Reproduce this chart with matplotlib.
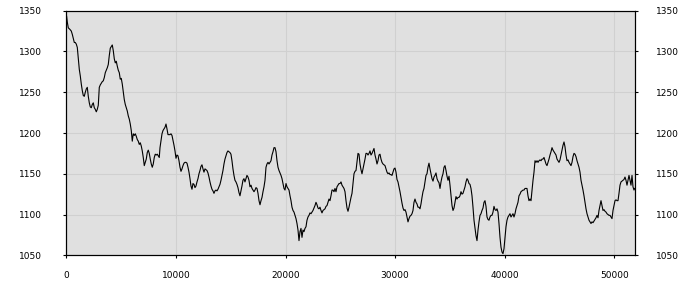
import matplotlib
matplotlib.use("Agg")
import matplotlib.pyplot as plt
import numpy as np

# ---- data ----
x_a = [0, 30, 91, 182, 334, 456, 547, 638, 730, 821, 912, 1003, 1094, 1186, 1277, 1368, 1459, 1550, 1642, 1733,
       1824, 1915, 2006, 2098, 2189, 2280, 2371, 2462, 2554, 2645, 2736, 2827, 2918, 3010, 3101, 3192, 3283, 3374,
       3466, 3557, 3648, 3739, 3830, 3922, 4013, 4104, 4195, 4286, 4378, 4469, 4560, 4651, 4742, 4834, 4925, 5016,
       5107, 5198, 5290, 5381, 5472, 5563, 5654, 5746, 5837, 5928, 6019, 6110, 6202, 6293, 6384, 6475, 6566, 6658,
       6749, 6840, 6931, 7022, 7114, 7205, 7296, 7387, 7478, 7570, 7661, 7752, 7843, 7934, 8026, 8117, 8208, 8299,
       8390, 8482]
y_a = [1345, 1343, 1336, 1329, 1327, 1325, 1321, 1316, 1311, 1311, 1309, 1305, 1291, 1278, 1270, 1260, 1252, 1246,
       1245, 1250, 1254, 1256, 1245, 1237, 1232, 1231, 1235, 1237, 1231, 1229, 1226, 1229, 1234, 1256, 1259, 1261,
       1263, 1264, 1268, 1274, 1277, 1280, 1284, 1295, 1304, 1306, 1308, 1301, 1291, 1286, 1288, 1282, 1277, 1274,
       1266, 1267, 1260, 1250, 1241, 1235, 1231, 1227, 1221, 1217, 1211, 1203, 1190, 1199, 1197, 1199, 1196, 1192,
       1190, 1186, 1188, 1184, 1178, 1170, 1160, 1164, 1168, 1176, 1179, 1175, 1168, 1162, 1158, 1162, 1170, 1174,
       1173, 1174, 1172, 1170]

x_b = [8549, 8640, 8731, 8822, 8914, 9005, 9096, 9187, 9278, 9370, 9461, 9552, 9643, 9734, 9826, 9917, 10008,
       10099, 10190, 10282, 10373, 10464, 10555, 10646, 10738, 10829, 10920, 11011, 11102, 11194, 11285, 11376,
       11467, 11558, 11650, 11741, 11832, 11923, 12014, 12106, 12197, 12288, 12379, 12470, 12562, 12653, 12744,
       12835, 12926, 13018, 13109, 13200, 13291, 13382, 13474, 13565, 13656, 13747, 13838, 13930, 14021, 14112,
       14203, 14294, 14386, 14477, 14568, 14659, 14750, 14842, 14933, 15024, 15115, 15206, 15298, 15389, 15480,
       15571, 15662, 15754, 15845, 15936, 16027, 16118, 16210, 16301, 16392, 16483]
y_b = [1182, 1191, 1199, 1203, 1205, 1207, 1211, 1205, 1198, 1198, 1198, 1199, 1197, 1191, 1185, 1178, 1169, 1173,
       1172, 1166, 1158, 1153, 1156, 1160, 1163, 1164, 1164, 1163, 1158, 1152, 1144, 1135, 1131, 1138, 1137, 1133,
       1135, 1140, 1144, 1150, 1154, 1159, 1161, 1156, 1152, 1156, 1155, 1154, 1151, 1146, 1140, 1135, 1131, 1129,
       1126, 1129, 1130, 1129, 1131, 1134, 1137, 1142, 1148, 1154, 1162, 1168, 1172, 1176, 1178, 1177, 1176, 1174,
       1166, 1156, 1148, 1142, 1140, 1137, 1133, 1127, 1123, 1129, 1135, 1142, 1144, 1140, 1144, 1148]

x_c = [16578, 16669, 16760, 16852, 16943, 17034, 17125, 17217, 17308, 17399, 17490, 17582, 17673, 17764, 17855,
       17946, 18038, 18129, 18220, 18311, 18403, 18494, 18585, 18676, 18768, 18859, 18950, 19041, 19133, 19224,
       19315, 19406, 19497, 19589, 19680, 19771, 19862, 19954, 20045, 20136, 20227, 20319, 20410, 20501, 20592,
       20683, 20775, 20866, 20957, 21048, 21140, 21231, 21322, 21413, 21504, 21596, 21687, 21778, 21869, 21960,
       22052, 22143, 22234, 22325, 22417, 22508, 22599, 22690, 22781, 22873, 22964, 23055, 23146, 23238, 23329,
       23420, 23511, 23603, 23694, 23785, 23876, 23968, 24059, 24150, 24241, 24333, 24424, 24515, 24606, 24697,
       24789, 24880]
y_c = [1146, 1142, 1134, 1136, 1132, 1130, 1128, 1130, 1133, 1132, 1126, 1117, 1112, 1117, 1121, 1128, 1134, 1142,
       1158, 1162, 1164, 1162, 1164, 1166, 1173, 1177, 1182, 1182, 1177, 1166, 1158, 1154, 1151, 1148, 1144, 1138,
       1132, 1130, 1138, 1134, 1132, 1130, 1123, 1117, 1109, 1105, 1103, 1099, 1095, 1089, 1081, 1068, 1079, 1083,
       1072, 1081, 1079, 1083, 1085, 1093, 1097, 1099, 1102, 1101, 1103, 1105, 1108, 1111, 1115, 1112, 1108, 1107,
       1109, 1105, 1102, 1105, 1106, 1107, 1110, 1111, 1115, 1119, 1117, 1123, 1130, 1130, 1128, 1132, 1128, 1134,
       1136, 1138]

x_d = [24972, 25063, 25154, 25246, 25337, 25428, 25519, 25611, 25702, 25793, 25884, 25976, 26067, 26158, 26249,
       26341, 26432, 26523, 26614, 26706, 26797, 26888, 26979, 27070, 27162, 27253, 27344, 27435, 27527, 27618,
       27709, 27800, 27892, 27983, 28074, 28165, 28256, 28348, 28439, 28530, 28621, 28713, 28804, 28895, 28986,
       29078, 29169, 29260, 29351, 29443, 29534, 29625, 29716, 29807, 29899, 29990, 30081, 30172, 30263, 30355,
       30446, 30537, 30628, 30720, 30811, 30902, 30993, 31085, 31176, 31267, 31358, 31450, 31541, 31632, 31723,
       31814, 31906, 31997, 32088, 32179, 32271, 32362, 32453, 32544, 32635, 32727, 32818, 32909, 33000, 33091,
       33183, 33274]
y_d = [1138, 1140, 1136, 1134, 1132, 1128, 1117, 1108, 1104, 1109, 1115, 1121, 1126, 1138, 1150, 1153, 1154, 1164,
       1175, 1174, 1162, 1155, 1150, 1156, 1162, 1168, 1175, 1175, 1173, 1175, 1178, 1173, 1175, 1178, 1181, 1173,
       1168, 1162, 1166, 1173, 1174, 1168, 1164, 1162, 1161, 1160, 1156, 1152, 1150, 1151, 1149, 1149, 1148, 1152,
       1156, 1157, 1152, 1143, 1140, 1134, 1128, 1121, 1114, 1108, 1105, 1106, 1103, 1097, 1091, 1095, 1098, 1099,
       1101, 1105, 1115, 1119, 1115, 1113, 1109, 1109, 1107, 1113, 1121, 1128, 1132, 1140, 1148, 1150, 1158, 1163,
       1156, 1150]

x_e = [33366, 33457, 33548, 33640, 33731, 33822, 33913, 34005, 34096, 34187, 34278, 34370, 34461, 34552, 34643,
       34735, 34826, 34917, 35008, 35099, 35191, 35282, 35373, 35464, 35556, 35647, 35738, 35829, 35920, 36012,
       36103, 36194, 36285, 36377, 36468, 36559, 36650, 36742, 36833, 36924, 37015, 37106, 37198, 37289, 37380,
       37471, 37563, 37654, 37745, 37836, 37928, 38019, 38110, 38201, 38293, 38384, 38475, 38566, 38657, 38749,
       38840, 38931, 39022, 39114, 39205, 39296, 39387, 39478, 39570, 39661, 39752, 39843, 39934, 40025, 40117,
       40208, 40299, 40390, 40482, 40573, 40664, 40755, 40846, 40938, 41029, 41120, 41211, 41303, 41394, 41485,
       41576, 41667, 41759, 41850, 41941, 42032, 42124, 42215]
y_e = [1144, 1141, 1146, 1148, 1151, 1144, 1141, 1139, 1132, 1140, 1146, 1150, 1158, 1160, 1154, 1147, 1142, 1147,
       1136, 1123, 1111, 1105, 1108, 1115, 1122, 1119, 1121, 1121, 1123, 1128, 1125, 1126, 1130, 1134, 1140, 1144,
       1142, 1138, 1137, 1132, 1123, 1109, 1093, 1083, 1074, 1068, 1081, 1091, 1099, 1101, 1105, 1108, 1115, 1117,
       1110, 1097, 1094, 1093, 1097, 1099, 1099, 1103, 1110, 1106, 1105, 1107, 1103, 1089, 1072, 1060, 1054, 1052,
       1058, 1072, 1085, 1093, 1097, 1099, 1101, 1097, 1099, 1101, 1097, 1101, 1107, 1111, 1115, 1123, 1125, 1128,
       1129, 1130, 1130, 1132, 1132, 1132, 1123, 1117]

x_f = [42308, 42399, 42490, 42582, 42673, 42764, 42855, 42947, 43038, 43129, 43220, 43312, 43403, 43494, 43585,
       43676, 43768, 43859, 43950, 44041, 44133, 44224, 44315, 44406, 44498, 44589, 44680, 44771, 44862, 44954,
       45045, 45136, 45227, 45319, 45410, 45501, 45592, 45684, 45775, 45866, 45957, 46048, 46140, 46231, 46322,
       46413, 46505, 46596, 46687, 46778, 46870, 46961, 47052, 47143, 47234, 47326, 47417, 47508, 47599, 47691,
       47782, 47873, 47964, 48056, 48147, 48238, 48329, 48420, 48512, 48603, 48694, 48785, 48877, 48968, 49059,
       49150, 49242, 49333, 49424, 49515, 49607, 49698, 49789, 49880, 49971, 50063, 50154, 50245, 50336, 50428,
       50519, 50610, 50701, 50792, 50884, 50975, 51066, 51157, 51249, 51340, 51431, 51522, 51614, 51705, 51796,
       51857]
y_f = [1119, 1117, 1130, 1142, 1152, 1166, 1164, 1166, 1164, 1166, 1167, 1166, 1168, 1168, 1170, 1166, 1162, 1160,
       1164, 1168, 1173, 1177, 1182, 1179, 1177, 1175, 1173, 1168, 1166, 1164, 1167, 1173, 1179, 1185, 1189, 1183,
       1173, 1166, 1167, 1164, 1162, 1160, 1164, 1171, 1175, 1174, 1171, 1166, 1162, 1158, 1152, 1142, 1136, 1130,
       1123, 1115, 1107, 1101, 1097, 1093, 1091, 1089, 1091, 1090, 1092, 1094, 1096, 1099, 1096, 1105, 1111, 1117,
       1111, 1105, 1106, 1104, 1103, 1101, 1100, 1099, 1099, 1097, 1095, 1105, 1111, 1117, 1118, 1117, 1117, 1126,
       1136, 1140, 1141, 1142, 1143, 1146, 1142, 1136, 1142, 1148, 1142, 1136, 1148, 1134, 1130, 1132]

x_ticks = [0, 10000, 20000, 30000, 40000, 50000]
y_ticks = [1050, 1100, 1150, 1200, 1250, 1300, 1350]
x_limits = (0, 51860)
y_limits = (1050, 1350)

x = np.array(x_a + x_b + x_c + x_d + x_e + x_f, dtype=float)
y = np.array(y_a + y_b + y_c + y_d + y_e + y_f, dtype=float)

# ---- figure ----
W, H = 700, 300
fig = plt.figure(figsize=(W / 100, H / 100), dpi=100)
left, right, top, bottom = 66.3, 634.7, 10.7, 255.3
ax = fig.add_axes([left / W, 1 - bottom / H, (right - left) / W, (bottom - top) / H])
ax.set_facecolor('#e0e0e0')
ax.plot(x, y, color='black', lw=0.8)
ax.set_xlim(*x_limits)
ax.set_ylim(*y_limits)
ax.set_xticks(x_ticks)
ax.set_xticklabels([str(t) for t in x_ticks])
ax.set_yticks(y_ticks)
ax.set_yticklabels([str(t) for t in y_ticks])
ax.grid(True, color='#d0d0d0', lw=0.8)
ax.set_axisbelow(True)
ax.tick_params(axis='y', direction='out', length=2.5, width=0.8, pad=14.8, labelsize=6.5, colors='black')
ax.tick_params(axis='x', direction='out', length=2.0, width=0.8, pad=9.0, labelsize=6.5, colors='black')

ax2 = ax.twinx()
ax2.set_ylim(*y_limits)
ax2.set_yticks(y_ticks)
ax2.set_yticklabels([str(t) for t in y_ticks])
ax2.tick_params(axis='y', direction='out', length=2.5, width=0.8, pad=12.7, labelsize=6.5, colors='black')

for a in (ax, ax2):
    for s in a.spines.values():
        s.set_linewidth(0.8)
        s.set_color('black')

fig.savefig('out.png', dpi=100)
